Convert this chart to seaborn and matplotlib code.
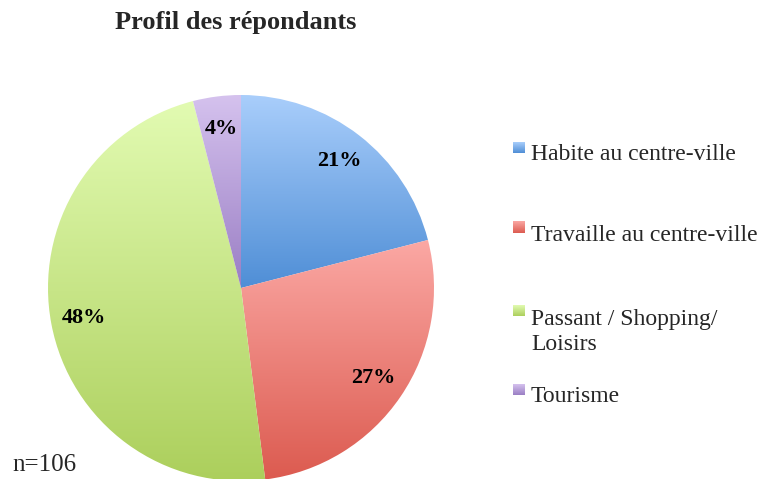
import numpy as np
import matplotlib.pyplot as plt
import seaborn as sns
from matplotlib.colors import LinearSegmentedColormap

# Données
categories = ['Habite au centre-ville', 'Travaille au centre-ville',
              'Passant / Shopping/\nLoisirs', 'Tourisme']
parts = [21, 27, 48, 4]
couleurs_haut = ['#A9CEFB', '#FBA8A4', '#E2FBB2', '#D5C2EE']
couleurs_bas = ['#4F8ED6', '#DC5B50', '#ACCF5C', '#9A7EC4']

sns.set_theme(style='white')
plt.rcParams['font.family'] = ['Liberation Serif', 'DejaVu Serif']

fig = plt.figure(figsize=(7.66, 4.79), dpi=100)
ax = fig.add_axes([48 / 766, -2 / 479, 386 / 766, 386 / 479])

wedges, texts, autotexts = ax.pie(
    parts, startangle=90, counterclock=False, autopct='%.0f%%',
    pctdistance=0.83, radius=1,
    textprops={'fontsize': 16, 'fontweight': 'bold', 'color': 'black'})

# Dégradé vertical dans chaque part (style Excel)
grad = np.linspace(0, 1, 256).reshape(-1, 1)
for w, c_haut, c_bas in zip(wedges, couleurs_haut, couleurs_bas):
    w.set_facecolor('none')
    w.set_edgecolor('none')
    bb = w.get_path().get_extents()
    cmap = LinearSegmentedColormap.from_list('g', [c_haut, c_bas])
    im = ax.imshow(grad, extent=[bb.x0, bb.x1, bb.y0, bb.y1], origin='upper',
                   cmap=cmap, aspect='auto', zorder=1)
    im.set_clip_path(w)
for t in autotexts:
    t.set_zorder(5)

ax.set_xlim(-1, 1)
ax.set_ylim(-1, 1)
ax.set_aspect('equal')
ax.axis('off')

# Légende manuelle (carrés alignés en haut du texte)
lax = fig.add_axes([0, 0, 1, 1], facecolor='none')
lax.set_xlim(0, 766)
lax.set_ylim(479, 0)
lax.axis('off')
centres_y = [155, 235, 332, 397]
for lab, cy, c_haut, c_bas in zip(categories, centres_y, couleurs_haut, couleurs_bas):
    n_lignes = lab.count('\n') + 1
    top = cy - 13 - 13.5 * (n_lignes - 1)
    cmap = LinearSegmentedColormap.from_list('g', [c_haut, c_bas])
    lax.imshow(grad, extent=[513, 525, top + 11, top], origin='upper',
               cmap=cmap, aspect='auto')
    lax.text(531, cy, lab, va='center', ha='left', fontsize=17, linespacing=1.25)
lax.set_xlim(0, 766)
lax.set_ylim(479, 0)

fig.text(236 / 766, 1 - 22 / 479, 'Profil des répondants', ha='center', va='center',
         fontsize=19, fontweight='bold')
fig.text(12 / 766, 1 - 465 / 479, 'n=106', ha='left', va='center', fontsize=18)

fig.savefig('out.png', dpi=100)
